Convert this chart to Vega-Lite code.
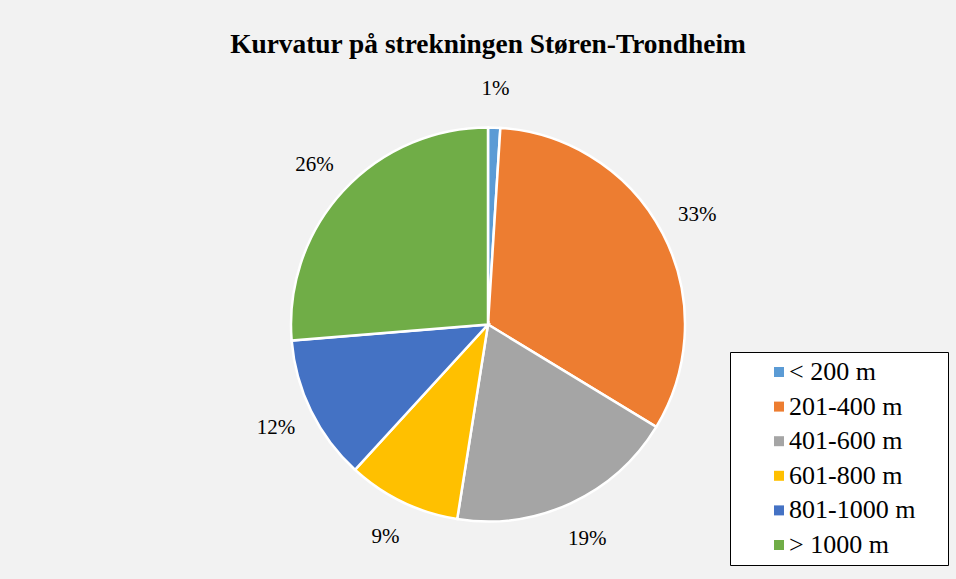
{
  "$schema": "https://vega.github.io/schema/vega-lite/v6.json",
  "autosize": {"type": "none"},
  "width": 936,
  "height": 509,
  "padding": {"left": 20, "top": 70, "right": 0, "bottom": 0},
  "background": "#f2f2f2",
  "title": {
    "text": "Kurvatur på strekningen Støren-Trondheim",
    "font": "Liberation Serif",
    "fontSize": 27.4,
    "fontWeight": "bold",
    "color": "#000000",
    "anchor": "middle",
    "baseline": "alphabetic",
    "offset": -10
  },
  "data": {
    "values": [
      {"kategori": "< 200 m", "andel": 0.01, "rekkefolge": 1},
      {"kategori": "201-400 m", "andel": 0.327, "rekkefolge": 2},
      {"kategori": "401-600 m", "andel": 0.188, "rekkefolge": 3},
      {"kategori": "601-800 m", "andel": 0.093, "rekkefolge": 4},
      {"kategori": "801-1000 m", "andel": 0.119, "rekkefolge": 5},
      {"kategori": "> 1000 m", "andel": 0.263, "rekkefolge": 6}
    ]
  },
  "encoding": {
    "theta": {"field": "andel", "type": "quantitative", "stack": true},
    "order": {"field": "rekkefolge", "type": "quantitative"}
  },
  "layer": [
    {
      "mark": {"type": "arc", "outerRadius": 197, "stroke": "#ffffff", "strokeWidth": 2.5},
      "encoding": {
        "color": {
          "field": "kategori",
          "type": "nominal",
          "sort": ["< 200 m", "201-400 m", "401-600 m", "601-800 m", "801-1000 m", "> 1000 m"],
          "scale": {
            "domain": ["< 200 m", "201-400 m", "401-600 m", "601-800 m", "801-1000 m", "> 1000 m"],
            "range": ["#5B9BD5", "#ED7D31", "#A5A5A5", "#FFC000", "#4472C4", "#70AD47"]
          },
          "legend": {
            "title": " ",
            "titleOrient": "right",
            "titleFont": "Liberation Serif",
            "titleFontSize": 10,
            "titlePadding": 26,
            "orient": "none",
            "legendX": 710,
            "legendY": 282,
            "fillColor": "#ffffff",
            "strokeColor": "#000000",
            "padding": 7,
            "symbolType": "square",
            "symbolSize": 100,
            "symbolStrokeWidth": 0,
            "symbolOffset": 29,
            "labelFont": "Liberation Serif",
            "labelFontSize": 26,
            "labelColor": "#000000",
            "labelOffset": -3,
            "labelLimit": 300,
            "rowPadding": 8.6
          }
        }
      }
    },
    {
      "mark": {"type": "text", "radius": 236, "font": "Liberation Serif", "fontSize": 21, "color": "#000000"},
      "encoding": {
        "text": {"field": "andel", "type": "quantitative", "format": ".0%"},
        "detail": {"field": "kategori"}
      }
    }
  ]
}
